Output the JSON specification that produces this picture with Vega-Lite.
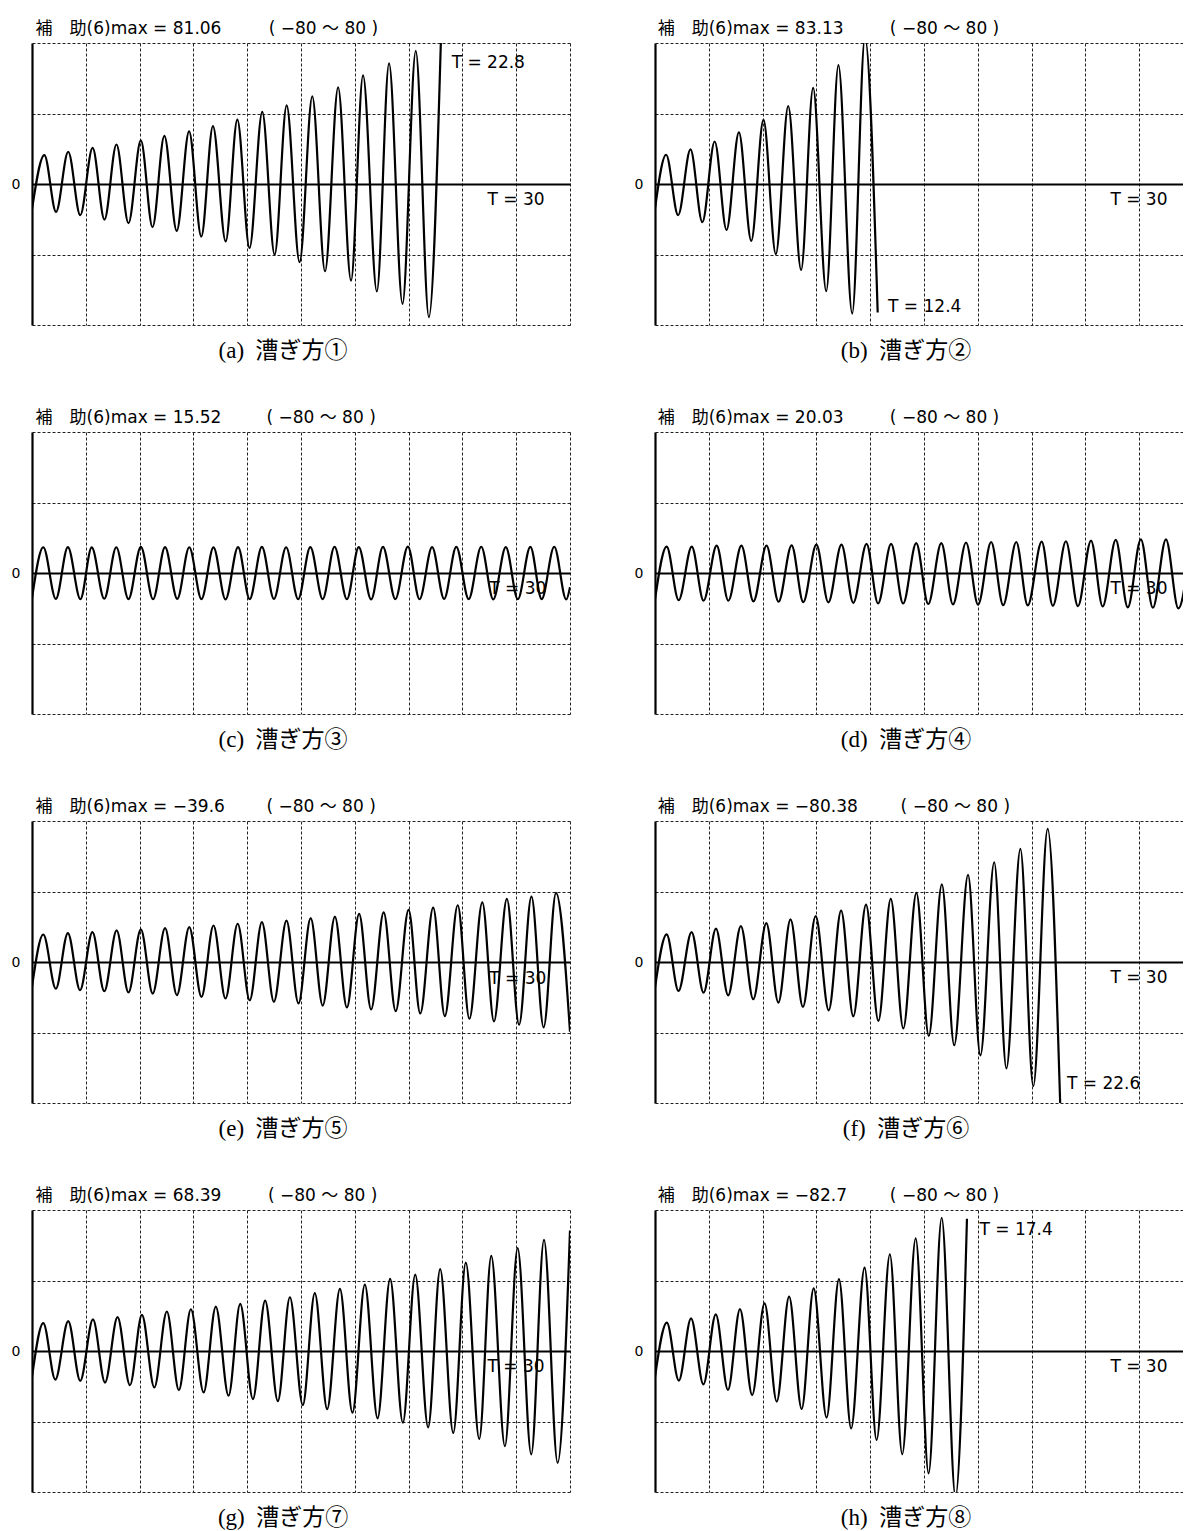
{
"$schema":"https://vega.github.io/schema/vega-lite/v6.json",
"background":"white",
"padding":{"left":11,"top":20,"right":0,"bottom":0},
"autosize":{"type":"pad"},
"config":{"view":{"stroke":null}},
"data":{"values":[
{"p":"a","k":"w","t":0,"v":-14.3},{"p":"a","k":"w","t":0.69,"v":16.4},{"p":"a","k":"w","t":1.34,"v":-15.8},{"p":"a","k":"w","t":2.02,"v":18.3},{"p":"a","k":"w","t":2.69,"v":-17.7},{"p":"a","k":"w","t":3.38,"v":20.5},{"p":"a","k":"w","t":4.04,"v":-20.2},{"p":"a","k":"w","t":4.71,"v":22.4},{"p":"a","k":"w","t":5.38,"v":-22.2},{"p":"a","k":"w","t":6.07,"v":24.7},{"p":"a","k":"w","t":6.72,"v":-24.5},{"p":"a","k":"w","t":7.38,"v":27.3},{"p":"a","k":"w","t":8.07,"v":-26.6},{"p":"a","k":"w","t":8.76,"v":29.9},{"p":"a","k":"w","t":9.44,"v":-29.8},{"p":"a","k":"w","t":10.09,"v":32.8},{"p":"a","k":"w","t":10.8,"v":-32.6},{"p":"a","k":"w","t":11.45,"v":36.5},{"p":"a","k":"w","t":12.13,"v":-36.3},{"p":"a","k":"w","t":12.84,"v":40.9},{"p":"a","k":"w","t":13.53,"v":-40.1},{"p":"a","k":"w","t":14.2,"v":44.6},{"p":"a","k":"w","t":14.92,"v":-44.4},{"p":"a","k":"w","t":15.63,"v":49.7},{"p":"a","k":"w","t":16.34,"v":-49.5},{"p":"a","k":"w","t":17.07,"v":54.8},{"p":"a","k":"w","t":17.79,"v":-54.8},{"p":"a","k":"w","t":18.46,"v":61.6},{"p":"a","k":"w","t":19.23,"v":-61.0},{"p":"a","k":"w","t":19.91,"v":68.4},{"p":"a","k":"w","t":20.66,"v":-68.0},{"p":"a","k":"w","t":21.4,"v":75.5},{"p":"a","k":"w","t":22.13,"v":-75.5},{"p":"a","k":"w","t":22.8,"v":81.06},
{"p":"a","k":"h","t":0.2,"v":85.1,"s":"補　助(6)max = 81.06"},{"p":"a","k":"h","t":13.2,"v":85.1,"s":"( −80 〜 80 )"},{"p":"a","k":"c","t":14.0,"v":-99,"s":"(a)\u2002漕ぎ方①"},{"p":"a","k":"l","t":25.4,"v":-9,"s":"T = 30"},{"p":"a","k":"l","t":23.4,"v":68.8,"s":"T = 22.8"},
{"p":"b","k":"w","t":0,"v":-14.0},{"p":"b","k":"w","t":0.62,"v":16.6},{"p":"b","k":"w","t":1.29,"v":-17.7},{"p":"b","k":"w","t":1.98,"v":19.6},{"p":"b","k":"w","t":2.64,"v":-21.6},{"p":"b","k":"w","t":3.33,"v":24.1},{"p":"b","k":"w","t":3.99,"v":-26.1},{"p":"b","k":"w","t":4.68,"v":29.3},{"p":"b","k":"w","t":5.37,"v":-32.3},{"p":"b","k":"w","t":6.05,"v":36.4},{"p":"b","k":"w","t":6.74,"v":-39.8},{"p":"b","k":"w","t":7.43,"v":44.2},{"p":"b","k":"w","t":8.15,"v":-48.8},{"p":"b","k":"w","t":8.82,"v":54.5},{"p":"b","k":"w","t":9.55,"v":-60.8},{"p":"b","k":"w","t":10.23,"v":67.4},{"p":"b","k":"w","t":11.0,"v":-73.5},{"p":"b","k":"w","t":11.71,"v":83.13},{"p":"b","k":"w","t":12.42,"v":-72.9},
{"p":"b","k":"h","t":0.15,"v":85.1,"s":"補　助(6)max = 83.13"},{"p":"b","k":"h","t":13.1,"v":85.1,"s":"( −80 〜 80 )"},{"p":"b","k":"c","t":14.0,"v":-99,"s":"(b)\u2002漕ぎ方②"},{"p":"b","k":"l","t":25.4,"v":-9,"s":"T = 30"},{"p":"b","k":"l","t":13.0,"v":-70,"s":"T = 12.4"},
{"p":"c","k":"w","t":0,"v":-14.4},{"p":"c","k":"w","t":0.63,"v":14.6},{"p":"c","k":"w","t":1.33,"v":-14.7},{"p":"c","k":"w","t":2.0,"v":14.7},{"p":"c","k":"w","t":2.7,"v":-14.8},{"p":"c","k":"w","t":3.33,"v":14.5},{"p":"c","k":"w","t":4.03,"v":-14.6},{"p":"c","k":"w","t":4.7,"v":14.6},{"p":"c","k":"w","t":5.38,"v":-14.8},{"p":"c","k":"w","t":6.07,"v":14.8},{"p":"c","k":"w","t":6.75,"v":-14.9},{"p":"c","k":"w","t":7.42,"v":14.7},{"p":"c","k":"w","t":8.1,"v":-14.7},{"p":"c","k":"w","t":8.77,"v":14.6},{"p":"c","k":"w","t":9.45,"v":-14.8},{"p":"c","k":"w","t":10.12,"v":14.5},{"p":"c","k":"w","t":10.79,"v":-15.0},{"p":"c","k":"w","t":11.49,"v":14.7},{"p":"c","k":"w","t":12.14,"v":-14.8},{"p":"c","k":"w","t":12.82,"v":14.8},{"p":"c","k":"w","t":13.49,"v":-14.7},{"p":"c","k":"w","t":14.17,"v":14.6},{"p":"c","k":"w","t":14.84,"v":-14.9},{"p":"c","k":"w","t":15.52,"v":14.7},{"p":"c","k":"w","t":16.21,"v":-14.8},{"p":"c","k":"w","t":16.87,"v":14.9},{"p":"c","k":"w","t":17.56,"v":-14.9},{"p":"c","k":"w","t":18.22,"v":14.7},{"p":"c","k":"w","t":18.91,"v":-15.0},{"p":"c","k":"w","t":19.57,"v":14.8},{"p":"c","k":"w","t":20.26,"v":-14.8},{"p":"c","k":"w","t":20.96,"v":15.0},{"p":"c","k":"w","t":21.61,"v":-14.9},{"p":"c","k":"w","t":22.31,"v":14.7},{"p":"c","k":"w","t":22.98,"v":-14.7},{"p":"c","k":"w","t":23.66,"v":14.8},{"p":"c","k":"w","t":24.35,"v":-14.8},{"p":"c","k":"w","t":25.05,"v":14.9},{"p":"c","k":"w","t":25.72,"v":-15.0},{"p":"c","k":"w","t":26.42,"v":14.7},{"p":"c","k":"w","t":27.09,"v":-14.9},{"p":"c","k":"w","t":27.79,"v":14.8},{"p":"c","k":"w","t":28.42,"v":-14.8},{"p":"c","k":"w","t":29.12,"v":14.9},{"p":"c","k":"w","t":29.79,"v":-15.0},{"p":"c","k":"w","t":30,"v":-8},
{"p":"c","k":"h","t":0.2,"v":85.1,"s":"補　助(6)max = 15.52"},{"p":"c","k":"h","t":13.07,"v":85.1,"s":"( −80 〜 80 )"},{"p":"c","k":"c","t":14.0,"v":-99,"s":"(c)\u2002漕ぎ方③"},{"p":"c","k":"l","t":25.5,"v":-9,"s":"T = 30"},
{"p":"d","k":"w","t":0,"v":-15.0},{"p":"d","k":"w","t":0.65,"v":15.0},{"p":"d","k":"w","t":1.32,"v":-15.4},{"p":"d","k":"w","t":2.05,"v":15.0},{"p":"d","k":"w","t":2.71,"v":-15.7},{"p":"d","k":"w","t":3.44,"v":15.5},{"p":"d","k":"w","t":4.09,"v":-15.7},{"p":"d","k":"w","t":4.82,"v":15.5},{"p":"d","k":"w","t":5.49,"v":-16.1},{"p":"d","k":"w","t":6.22,"v":15.5},{"p":"d","k":"w","t":6.89,"v":-16.3},{"p":"d","k":"w","t":7.62,"v":15.7},{"p":"d","k":"w","t":8.27,"v":-16.5},{"p":"d","k":"w","t":9.0,"v":16.1},{"p":"d","k":"w","t":9.67,"v":-16.7},{"p":"d","k":"w","t":10.4,"v":16.1},{"p":"d","k":"w","t":11.06,"v":-16.9},{"p":"d","k":"w","t":11.8,"v":16.5},{"p":"d","k":"w","t":12.44,"v":-17.3},{"p":"d","k":"w","t":13.17,"v":16.5},{"p":"d","k":"w","t":13.84,"v":-17.3},{"p":"d","k":"w","t":14.57,"v":16.9},{"p":"d","k":"w","t":15.24,"v":-17.6},{"p":"d","k":"w","t":15.97,"v":16.9},{"p":"d","k":"w","t":16.62,"v":-17.8},{"p":"d","k":"w","t":17.35,"v":17.3},{"p":"d","k":"w","t":18.02,"v":-18.0},{"p":"d","k":"w","t":18.75,"v":17.6},{"p":"d","k":"w","t":19.42,"v":-18.2},{"p":"d","k":"w","t":20.15,"v":17.6},{"p":"d","k":"w","t":20.79,"v":-18.4},{"p":"d","k":"w","t":21.57,"v":17.8},{"p":"d","k":"w","t":22.19,"v":-18.6},{"p":"d","k":"w","t":22.92,"v":18.0},{"p":"d","k":"w","t":23.59,"v":-18.8},{"p":"d","k":"w","t":24.32,"v":18.4},{"p":"d","k":"w","t":24.97,"v":-19.0},{"p":"d","k":"w","t":25.7,"v":18.8},{"p":"d","k":"w","t":26.37,"v":-19.5},{"p":"d","k":"w","t":27.1,"v":19.1},{"p":"d","k":"w","t":27.77,"v":-19.7},{"p":"d","k":"w","t":28.5,"v":19.1},{"p":"d","k":"w","t":29.19,"v":-20.1},{"p":"d","k":"w","t":29.9,"v":19.8},
{"p":"d","k":"h","t":0.15,"v":85.1,"s":"補　助(6)max = 20.03"},{"p":"d","k":"h","t":13.1,"v":85.1,"s":"( −80 〜 80 )"},{"p":"d","k":"c","t":14.0,"v":-99,"s":"(d)\u2002漕ぎ方④"},{"p":"d","k":"l","t":25.4,"v":-9,"s":"T = 30"},
{"p":"e","k":"w","t":0,"v":-14.1},{"p":"e","k":"w","t":0.63,"v":15.6},{"p":"e","k":"w","t":1.33,"v":-15.1},{"p":"e","k":"w","t":2.0,"v":16.4},{"p":"e","k":"w","t":2.68,"v":-16.0},{"p":"e","k":"w","t":3.37,"v":16.9},{"p":"e","k":"w","t":4.03,"v":-16.6},{"p":"e","k":"w","t":4.72,"v":17.9},{"p":"e","k":"w","t":5.38,"v":-17.3},{"p":"e","k":"w","t":6.07,"v":18.5},{"p":"e","k":"w","t":6.73,"v":-17.9},{"p":"e","k":"w","t":7.42,"v":19.2},{"p":"e","k":"w","t":8.08,"v":-18.8},{"p":"e","k":"w","t":8.77,"v":19.8},{"p":"e","k":"w","t":9.45,"v":-19.8},{"p":"e","k":"w","t":10.12,"v":20.7},{"p":"e","k":"w","t":10.79,"v":-20.7},{"p":"e","k":"w","t":11.47,"v":21.7},{"p":"e","k":"w","t":12.14,"v":-21.7},{"p":"e","k":"w","t":12.82,"v":22.6},{"p":"e","k":"w","t":13.49,"v":-22.6},{"p":"e","k":"w","t":14.19,"v":23.5},{"p":"e","k":"w","t":14.86,"v":-23.5},{"p":"e","k":"w","t":15.54,"v":24.9},{"p":"e","k":"w","t":16.21,"v":-24.7},{"p":"e","k":"w","t":16.89,"v":25.8},{"p":"e","k":"w","t":17.56,"v":-25.8},{"p":"e","k":"w","t":18.24,"v":27.3},{"p":"e","k":"w","t":18.91,"v":-26.9},{"p":"e","k":"w","t":19.61,"v":28.2},{"p":"e","k":"w","t":20.28,"v":-27.9},{"p":"e","k":"w","t":21.0,"v":29.6},{"p":"e","k":"w","t":21.65,"v":-29.2},{"p":"e","k":"w","t":22.37,"v":30.9},{"p":"e","k":"w","t":23.02,"v":-30.7},{"p":"e","k":"w","t":23.74,"v":32.2},{"p":"e","k":"w","t":24.39,"v":-32.2},{"p":"e","k":"w","t":25.11,"v":33.9},{"p":"e","k":"w","t":25.76,"v":-33.7},{"p":"e","k":"w","t":26.48,"v":35.8},{"p":"e","k":"w","t":27.16,"v":-35.6},{"p":"e","k":"w","t":27.85,"v":37.1},{"p":"e","k":"w","t":28.53,"v":-37.1},{"p":"e","k":"w","t":29.22,"v":39.2},{"p":"e","k":"w","t":30,"v":-39.6},
{"p":"e","k":"h","t":0.2,"v":85.1,"s":"補　助(6)max = −39.6"},{"p":"e","k":"h","t":13.07,"v":85.1,"s":"( −80 〜 80 )"},{"p":"e","k":"c","t":14.0,"v":-99,"s":"(e)\u2002漕ぎ方⑤"},{"p":"e","k":"l","t":25.5,"v":-9.5,"s":"T = 30"},
{"p":"f","k":"w","t":0,"v":-14.5},{"p":"f","k":"w","t":0.65,"v":15.7},{"p":"f","k":"w","t":1.31,"v":-16.4},{"p":"f","k":"w","t":2.04,"v":17.0},{"p":"f","k":"w","t":2.71,"v":-17.4},{"p":"f","k":"w","t":3.4,"v":18.9},{"p":"f","k":"w","t":4.08,"v":-18.9},{"p":"f","k":"w","t":4.79,"v":20.4},{"p":"f","k":"w","t":5.48,"v":-21.1},{"p":"f","k":"w","t":6.21,"v":22.1},{"p":"f","k":"w","t":6.88,"v":-23.0},{"p":"f","k":"w","t":7.56,"v":24.2},{"p":"f","k":"w","t":8.25,"v":-25.5},{"p":"f","k":"w","t":8.96,"v":26.0},{"p":"f","k":"w","t":9.69,"v":-27.4},{"p":"f","k":"w","t":10.38,"v":29.2},{"p":"f","k":"w","t":11.06,"v":-30.8},{"p":"f","k":"w","t":11.77,"v":32.5},{"p":"f","k":"w","t":12.46,"v":-33.4},{"p":"f","k":"w","t":13.15,"v":35.8},{"p":"f","k":"w","t":13.85,"v":-37.7},{"p":"f","k":"w","t":14.58,"v":39.2},{"p":"f","k":"w","t":15.27,"v":-41.9},{"p":"f","k":"w","t":16.0,"v":44.0},{"p":"f","k":"w","t":16.69,"v":-47.2},{"p":"f","k":"w","t":17.46,"v":49.4},{"p":"f","k":"w","t":18.15,"v":-53.0},{"p":"f","k":"w","t":18.92,"v":56.6},{"p":"f","k":"w","t":19.6,"v":-60.4},{"p":"f","k":"w","t":20.38,"v":64.2},{"p":"f","k":"w","t":21.1,"v":-70.4},{"p":"f","k":"w","t":21.9,"v":75.5},{"p":"f","k":"w","t":22.6,"v":-80.38},
{"p":"f","k":"h","t":0.15,"v":85.1,"s":"補　助(6)max = −80.38"},{"p":"f","k":"h","t":13.7,"v":85.1,"s":"( −80 〜 80 )"},{"p":"f","k":"c","t":14.0,"v":-99,"s":"(f)\u2002漕ぎ方⑥"},{"p":"f","k":"l","t":25.4,"v":-9,"s":"T = 30"},{"p":"f","k":"l","t":22.98,"v":-69,"s":"T = 22.6"},
{"p":"g","k":"w","t":0,"v":-14.7},{"p":"g","k":"w","t":0.63,"v":15.8},{"p":"g","k":"w","t":1.3,"v":-16.2},{"p":"g","k":"w","t":2.02,"v":16.9},{"p":"g","k":"w","t":2.69,"v":-16.9},{"p":"g","k":"w","t":3.4,"v":17.9},{"p":"g","k":"w","t":4.07,"v":-17.9},{"p":"g","k":"w","t":4.77,"v":19.2},{"p":"g","k":"w","t":5.46,"v":-19.4},{"p":"g","k":"w","t":6.13,"v":20.5},{"p":"g","k":"w","t":6.82,"v":-20.7},{"p":"g","k":"w","t":7.52,"v":22.4},{"p":"g","k":"w","t":8.19,"v":-22.2},{"p":"g","k":"w","t":8.86,"v":23.7},{"p":"g","k":"w","t":9.57,"v":-23.5},{"p":"g","k":"w","t":10.25,"v":25.2},{"p":"g","k":"w","t":10.96,"v":-25.4},{"p":"g","k":"w","t":11.61,"v":26.7},{"p":"g","k":"w","t":12.32,"v":-27.3},{"p":"g","k":"w","t":13.0,"v":28.6},{"p":"g","k":"w","t":13.71,"v":-28.4},{"p":"g","k":"w","t":14.38,"v":30.5},{"p":"g","k":"w","t":15.1,"v":-30.7},{"p":"g","k":"w","t":15.77,"v":32.8},{"p":"g","k":"w","t":16.46,"v":-33.0},{"p":"g","k":"w","t":17.17,"v":35.2},{"p":"g","k":"w","t":17.87,"v":-35.0},{"p":"g","k":"w","t":18.56,"v":37.7},{"p":"g","k":"w","t":19.27,"v":-38.2},{"p":"g","k":"w","t":19.97,"v":40.9},{"p":"g","k":"w","t":20.68,"v":-40.7},{"p":"g","k":"w","t":21.37,"v":43.3},{"p":"g","k":"w","t":22.09,"v":-43.3},{"p":"g","k":"w","t":22.76,"v":46.5},{"p":"g","k":"w","t":23.49,"v":-46.5},{"p":"g","k":"w","t":24.19,"v":50.1},{"p":"g","k":"w","t":24.94,"v":-49.9},{"p":"g","k":"w","t":25.61,"v":54.0},{"p":"g","k":"w","t":26.37,"v":-54.0},{"p":"g","k":"w","t":27.08,"v":58.4},{"p":"g","k":"w","t":27.84,"v":-58.7},{"p":"g","k":"w","t":28.55,"v":63.1},{"p":"g","k":"w","t":29.31,"v":-63.5},{"p":"g","k":"w","t":30,"v":68.39},
{"p":"g","k":"h","t":0.2,"v":85.1,"s":"補　助(6)max = 68.39"},{"p":"g","k":"h","t":13.16,"v":85.1,"s":"( −80 〜 80 )"},{"p":"g","k":"c","t":14.0,"v":-99,"s":"(g)\u2002漕ぎ方⑦"},{"p":"g","k":"l","t":25.4,"v":-9,"s":"T = 30"},
{"p":"h","k":"w","t":0,"v":-14.6},{"p":"h","k":"w","t":0.66,"v":16.1},{"p":"h","k":"w","t":1.33,"v":-16.8},{"p":"h","k":"w","t":2.01,"v":18.5},{"p":"h","k":"w","t":2.7,"v":-18.9},{"p":"h","k":"w","t":3.39,"v":20.8},{"p":"h","k":"w","t":4.07,"v":-22.1},{"p":"h","k":"w","t":4.74,"v":23.8},{"p":"h","k":"w","t":5.42,"v":-25.0},{"p":"h","k":"w","t":6.11,"v":27.0},{"p":"h","k":"w","t":6.79,"v":-28.7},{"p":"h","k":"w","t":7.48,"v":30.8},{"p":"h","k":"w","t":8.18,"v":-32.9},{"p":"h","k":"w","t":8.85,"v":35.5},{"p":"h","k":"w","t":9.57,"v":-37.8},{"p":"h","k":"w","t":10.26,"v":40.8},{"p":"h","k":"w","t":10.94,"v":-43.9},{"p":"h","k":"w","t":11.69,"v":47.3},{"p":"h","k":"w","t":12.36,"v":-50.5},{"p":"h","k":"w","t":13.1,"v":54.8},{"p":"h","k":"w","t":13.79,"v":-58.6},{"p":"h","k":"w","t":14.54,"v":63.9},{"p":"h","k":"w","t":15.26,"v":-69.4},{"p":"h","k":"w","t":15.99,"v":75.6},{"p":"h","k":"w","t":16.76,"v":-82.7},{"p":"h","k":"w","t":17.4,"v":75.0},
{"p":"h","k":"h","t":0.15,"v":85.1,"s":"補　助(6)max = −82.7"},{"p":"h","k":"h","t":13.1,"v":85.1,"s":"( −80 〜 80 )"},{"p":"h","k":"c","t":14.0,"v":-99,"s":"(h)\u2002漕ぎ方⑧"},{"p":"h","k":"l","t":25.4,"v":-9,"s":"T = 30"},{"p":"h","k":"l","t":18.1,"v":68.6,"s":"T = 17.4"}
]},
"columns":2,
"spacing":{"row":107,"column":85},
"bounds":"flush",
"concat":[
{"width":538,"height":282,"transform":[{"filter":"datum.p === 'a'"}],
 "encoding":{"x":{"field":"t","type":"quantitative","scale":{"domain":[0,30],"nice":false,"zero":false},"axis":{"values":[3,6,9,12,15,18,21,24,27,30],"grid":true,"gridColor":"#222","gridDash":[3,2],"gridWidth":1,"labels":false,"ticks":false,"domain":false,"title":null}},
  "y":{"field":"v","type":"quantitative","scale":{"domain":[-80,80],"nice":false,"zero":false},"axis":{"values":[-80,-40,0,40,80],"grid":true,"gridColor":{"condition":{"test":"datum.value === 0","value":"black"},"value":"#222"},"gridDash":{"condition":{"test":"datum.value === 0","value":[]},"value":[3,2]},"gridWidth":{"condition":{"test":"datum.value === 0","value":2.2},"value":1},"labelExpr":"datum.value === 0 ? '0' : ''","labelFont":"DejaVu Sans","labelFontSize":14,"labelColor":"black","labelPadding":12,"labelOverlap":false,"labelFlush":false,"ticks":false,"tickSize":0,"domain":true,"domainColor":"black","domainWidth":2.2,"title":null}}},
 "layer":[
  {"transform":[{"filter":"datum.k === 'h'"}],"mark":{"type":"text","align":"left","baseline":"alphabetic","fontSize":17,"font":"DejaVu Sans, Noto Sans CJK JP","color":"black"},"encoding":{"text":{"field":"s"}}},
  {"transform":[{"filter":"datum.k === 'c'"}],"mark":{"type":"text","align":"center","baseline":"alphabetic","fontSize":23,"font":"Liberation Serif, Noto Sans CJK JP","color":"black"},"encoding":{"text":{"field":"s"}}},
  {"transform":[{"filter":"datum.k === 'l'"}],"mark":{"type":"text","align":"left","baseline":"middle","fontSize":17,"font":"DejaVu Sans","color":"black"},"encoding":{"text":{"field":"s"}}},
  {"transform":[{"filter":"datum.k === 'w'"}],"mark":{"type":"line","interpolate":"monotone","color":"black","strokeWidth":2.2,"clip":true}}
 ]},
{"width":528,"height":282,"transform":[{"filter":"datum.p === 'b'"}],
 "encoding":{"x":{"field":"t","type":"quantitative","scale":{"domain":[0,29.45],"nice":false,"zero":false},"axis":{"values":[3,6,9,12,15,18,21,24,27],"grid":true,"gridColor":"#222","gridDash":[3,2],"gridWidth":1,"labels":false,"ticks":false,"domain":false,"title":null}},
  "y":{"field":"v","type":"quantitative","scale":{"domain":[-80,80],"nice":false,"zero":false},"axis":{"values":[-80,-40,0,40,80],"grid":true,"gridColor":{"condition":{"test":"datum.value === 0","value":"black"},"value":"#222"},"gridDash":{"condition":{"test":"datum.value === 0","value":[]},"value":[3,2]},"gridWidth":{"condition":{"test":"datum.value === 0","value":2.2},"value":1},"labelExpr":"datum.value === 0 ? '0' : ''","labelFont":"DejaVu Sans","labelFontSize":14,"labelColor":"black","labelPadding":12,"labelOverlap":false,"labelFlush":false,"ticks":false,"tickSize":0,"domain":true,"domainColor":"black","domainWidth":2.2,"title":null}}},
 "layer":[
  {"transform":[{"filter":"datum.k === 'h'"}],"mark":{"type":"text","align":"left","baseline":"alphabetic","fontSize":17,"font":"DejaVu Sans, Noto Sans CJK JP","color":"black"},"encoding":{"text":{"field":"s"}}},
  {"transform":[{"filter":"datum.k === 'c'"}],"mark":{"type":"text","align":"center","baseline":"alphabetic","fontSize":23,"font":"Liberation Serif, Noto Sans CJK JP","color":"black"},"encoding":{"text":{"field":"s"}}},
  {"transform":[{"filter":"datum.k === 'l'"}],"mark":{"type":"text","align":"left","baseline":"middle","fontSize":17,"font":"DejaVu Sans","color":"black"},"encoding":{"text":{"field":"s"}}},
  {"transform":[{"filter":"datum.k === 'w'"}],"mark":{"type":"line","interpolate":"monotone","color":"black","strokeWidth":2.2,"clip":true}}
 ]},
{"width":538,"height":282,"transform":[{"filter":"datum.p === 'c'"}],
 "encoding":{"x":{"field":"t","type":"quantitative","scale":{"domain":[0,30],"nice":false,"zero":false},"axis":{"values":[3,6,9,12,15,18,21,24,27,30],"grid":true,"gridColor":"#222","gridDash":[3,2],"gridWidth":1,"labels":false,"ticks":false,"domain":false,"title":null}},
  "y":{"field":"v","type":"quantitative","scale":{"domain":[-80,80],"nice":false,"zero":false},"axis":{"values":[-80,-40,0,40,80],"grid":true,"gridColor":{"condition":{"test":"datum.value === 0","value":"black"},"value":"#222"},"gridDash":{"condition":{"test":"datum.value === 0","value":[]},"value":[3,2]},"gridWidth":{"condition":{"test":"datum.value === 0","value":2.2},"value":1},"labelExpr":"datum.value === 0 ? '0' : ''","labelFont":"DejaVu Sans","labelFontSize":14,"labelColor":"black","labelPadding":12,"labelOverlap":false,"labelFlush":false,"ticks":false,"tickSize":0,"domain":true,"domainColor":"black","domainWidth":2.2,"title":null}}},
 "layer":[
  {"transform":[{"filter":"datum.k === 'h'"}],"mark":{"type":"text","align":"left","baseline":"alphabetic","fontSize":17,"font":"DejaVu Sans, Noto Sans CJK JP","color":"black"},"encoding":{"text":{"field":"s"}}},
  {"transform":[{"filter":"datum.k === 'c'"}],"mark":{"type":"text","align":"center","baseline":"alphabetic","fontSize":23,"font":"Liberation Serif, Noto Sans CJK JP","color":"black"},"encoding":{"text":{"field":"s"}}},
  {"transform":[{"filter":"datum.k === 'l'"}],"mark":{"type":"text","align":"left","baseline":"middle","fontSize":17,"font":"DejaVu Sans","color":"black"},"encoding":{"text":{"field":"s"}}},
  {"transform":[{"filter":"datum.k === 'w'"}],"mark":{"type":"line","interpolate":"monotone","color":"black","strokeWidth":2.2,"clip":true}}
 ]},
{"width":528,"height":282,"transform":[{"filter":"datum.p === 'd'"}],
 "encoding":{"x":{"field":"t","type":"quantitative","scale":{"domain":[0,29.45],"nice":false,"zero":false},"axis":{"values":[3,6,9,12,15,18,21,24,27],"grid":true,"gridColor":"#222","gridDash":[3,2],"gridWidth":1,"labels":false,"ticks":false,"domain":false,"title":null}},
  "y":{"field":"v","type":"quantitative","scale":{"domain":[-80,80],"nice":false,"zero":false},"axis":{"values":[-80,-40,0,40,80],"grid":true,"gridColor":{"condition":{"test":"datum.value === 0","value":"black"},"value":"#222"},"gridDash":{"condition":{"test":"datum.value === 0","value":[]},"value":[3,2]},"gridWidth":{"condition":{"test":"datum.value === 0","value":2.2},"value":1},"labelExpr":"datum.value === 0 ? '0' : ''","labelFont":"DejaVu Sans","labelFontSize":14,"labelColor":"black","labelPadding":12,"labelOverlap":false,"labelFlush":false,"ticks":false,"tickSize":0,"domain":true,"domainColor":"black","domainWidth":2.2,"title":null}}},
 "layer":[
  {"transform":[{"filter":"datum.k === 'h'"}],"mark":{"type":"text","align":"left","baseline":"alphabetic","fontSize":17,"font":"DejaVu Sans, Noto Sans CJK JP","color":"black"},"encoding":{"text":{"field":"s"}}},
  {"transform":[{"filter":"datum.k === 'c'"}],"mark":{"type":"text","align":"center","baseline":"alphabetic","fontSize":23,"font":"Liberation Serif, Noto Sans CJK JP","color":"black"},"encoding":{"text":{"field":"s"}}},
  {"transform":[{"filter":"datum.k === 'l'"}],"mark":{"type":"text","align":"left","baseline":"middle","fontSize":17,"font":"DejaVu Sans","color":"black"},"encoding":{"text":{"field":"s"}}},
  {"transform":[{"filter":"datum.k === 'w'"}],"mark":{"type":"line","interpolate":"monotone","color":"black","strokeWidth":2.2,"clip":true}}
 ]},
{"width":538,"height":282,"transform":[{"filter":"datum.p === 'e'"}],
 "encoding":{"x":{"field":"t","type":"quantitative","scale":{"domain":[0,30],"nice":false,"zero":false},"axis":{"values":[3,6,9,12,15,18,21,24,27,30],"grid":true,"gridColor":"#222","gridDash":[3,2],"gridWidth":1,"labels":false,"ticks":false,"domain":false,"title":null}},
  "y":{"field":"v","type":"quantitative","scale":{"domain":[-80,80],"nice":false,"zero":false},"axis":{"values":[-80,-40,0,40,80],"grid":true,"gridColor":{"condition":{"test":"datum.value === 0","value":"black"},"value":"#222"},"gridDash":{"condition":{"test":"datum.value === 0","value":[]},"value":[3,2]},"gridWidth":{"condition":{"test":"datum.value === 0","value":2.2},"value":1},"labelExpr":"datum.value === 0 ? '0' : ''","labelFont":"DejaVu Sans","labelFontSize":14,"labelColor":"black","labelPadding":12,"labelOverlap":false,"labelFlush":false,"ticks":false,"tickSize":0,"domain":true,"domainColor":"black","domainWidth":2.2,"title":null}}},
 "layer":[
  {"transform":[{"filter":"datum.k === 'h'"}],"mark":{"type":"text","align":"left","baseline":"alphabetic","fontSize":17,"font":"DejaVu Sans, Noto Sans CJK JP","color":"black"},"encoding":{"text":{"field":"s"}}},
  {"transform":[{"filter":"datum.k === 'c'"}],"mark":{"type":"text","align":"center","baseline":"alphabetic","fontSize":23,"font":"Liberation Serif, Noto Sans CJK JP","color":"black"},"encoding":{"text":{"field":"s"}}},
  {"transform":[{"filter":"datum.k === 'l'"}],"mark":{"type":"text","align":"left","baseline":"middle","fontSize":17,"font":"DejaVu Sans","color":"black"},"encoding":{"text":{"field":"s"}}},
  {"transform":[{"filter":"datum.k === 'w'"}],"mark":{"type":"line","interpolate":"monotone","color":"black","strokeWidth":2.2,"clip":true}}
 ]},
{"width":528,"height":282,"transform":[{"filter":"datum.p === 'f'"}],
 "encoding":{"x":{"field":"t","type":"quantitative","scale":{"domain":[0,29.45],"nice":false,"zero":false},"axis":{"values":[3,6,9,12,15,18,21,24,27],"grid":true,"gridColor":"#222","gridDash":[3,2],"gridWidth":1,"labels":false,"ticks":false,"domain":false,"title":null}},
  "y":{"field":"v","type":"quantitative","scale":{"domain":[-80,80],"nice":false,"zero":false},"axis":{"values":[-80,-40,0,40,80],"grid":true,"gridColor":{"condition":{"test":"datum.value === 0","value":"black"},"value":"#222"},"gridDash":{"condition":{"test":"datum.value === 0","value":[]},"value":[3,2]},"gridWidth":{"condition":{"test":"datum.value === 0","value":2.2},"value":1},"labelExpr":"datum.value === 0 ? '0' : ''","labelFont":"DejaVu Sans","labelFontSize":14,"labelColor":"black","labelPadding":12,"labelOverlap":false,"labelFlush":false,"ticks":false,"tickSize":0,"domain":true,"domainColor":"black","domainWidth":2.2,"title":null}}},
 "layer":[
  {"transform":[{"filter":"datum.k === 'h'"}],"mark":{"type":"text","align":"left","baseline":"alphabetic","fontSize":17,"font":"DejaVu Sans, Noto Sans CJK JP","color":"black"},"encoding":{"text":{"field":"s"}}},
  {"transform":[{"filter":"datum.k === 'c'"}],"mark":{"type":"text","align":"center","baseline":"alphabetic","fontSize":23,"font":"Liberation Serif, Noto Sans CJK JP","color":"black"},"encoding":{"text":{"field":"s"}}},
  {"transform":[{"filter":"datum.k === 'l'"}],"mark":{"type":"text","align":"left","baseline":"middle","fontSize":17,"font":"DejaVu Sans","color":"black"},"encoding":{"text":{"field":"s"}}},
  {"transform":[{"filter":"datum.k === 'w'"}],"mark":{"type":"line","interpolate":"monotone","color":"black","strokeWidth":2.2,"clip":true}}
 ]},
{"width":538,"height":282,"transform":[{"filter":"datum.p === 'g'"}],
 "encoding":{"x":{"field":"t","type":"quantitative","scale":{"domain":[0,30],"nice":false,"zero":false},"axis":{"values":[3,6,9,12,15,18,21,24,27,30],"grid":true,"gridColor":"#222","gridDash":[3,2],"gridWidth":1,"labels":false,"ticks":false,"domain":false,"title":null}},
  "y":{"field":"v","type":"quantitative","scale":{"domain":[-80,80],"nice":false,"zero":false},"axis":{"values":[-80,-40,0,40,80],"grid":true,"gridColor":{"condition":{"test":"datum.value === 0","value":"black"},"value":"#222"},"gridDash":{"condition":{"test":"datum.value === 0","value":[]},"value":[3,2]},"gridWidth":{"condition":{"test":"datum.value === 0","value":2.2},"value":1},"labelExpr":"datum.value === 0 ? '0' : ''","labelFont":"DejaVu Sans","labelFontSize":14,"labelColor":"black","labelPadding":12,"labelOverlap":false,"labelFlush":false,"ticks":false,"tickSize":0,"domain":true,"domainColor":"black","domainWidth":2.2,"title":null}}},
 "layer":[
  {"transform":[{"filter":"datum.k === 'h'"}],"mark":{"type":"text","align":"left","baseline":"alphabetic","fontSize":17,"font":"DejaVu Sans, Noto Sans CJK JP","color":"black"},"encoding":{"text":{"field":"s"}}},
  {"transform":[{"filter":"datum.k === 'c'"}],"mark":{"type":"text","align":"center","baseline":"alphabetic","fontSize":23,"font":"Liberation Serif, Noto Sans CJK JP","color":"black"},"encoding":{"text":{"field":"s"}}},
  {"transform":[{"filter":"datum.k === 'l'"}],"mark":{"type":"text","align":"left","baseline":"middle","fontSize":17,"font":"DejaVu Sans","color":"black"},"encoding":{"text":{"field":"s"}}},
  {"transform":[{"filter":"datum.k === 'w'"}],"mark":{"type":"line","interpolate":"monotone","color":"black","strokeWidth":2.2,"clip":true}}
 ]},
{"width":528,"height":282,"transform":[{"filter":"datum.p === 'h'"}],
 "encoding":{"x":{"field":"t","type":"quantitative","scale":{"domain":[0,29.45],"nice":false,"zero":false},"axis":{"values":[3,6,9,12,15,18,21,24,27],"grid":true,"gridColor":"#222","gridDash":[3,2],"gridWidth":1,"labels":false,"ticks":false,"domain":false,"title":null}},
  "y":{"field":"v","type":"quantitative","scale":{"domain":[-80,80],"nice":false,"zero":false},"axis":{"values":[-80,-40,0,40,80],"grid":true,"gridColor":{"condition":{"test":"datum.value === 0","value":"black"},"value":"#222"},"gridDash":{"condition":{"test":"datum.value === 0","value":[]},"value":[3,2]},"gridWidth":{"condition":{"test":"datum.value === 0","value":2.2},"value":1},"labelExpr":"datum.value === 0 ? '0' : ''","labelFont":"DejaVu Sans","labelFontSize":14,"labelColor":"black","labelPadding":12,"labelOverlap":false,"labelFlush":false,"ticks":false,"tickSize":0,"domain":true,"domainColor":"black","domainWidth":2.2,"title":null}}},
 "layer":[
  {"transform":[{"filter":"datum.k === 'h'"}],"mark":{"type":"text","align":"left","baseline":"alphabetic","fontSize":17,"font":"DejaVu Sans, Noto Sans CJK JP","color":"black"},"encoding":{"text":{"field":"s"}}},
  {"transform":[{"filter":"datum.k === 'c'"}],"mark":{"type":"text","align":"center","baseline":"alphabetic","fontSize":23,"font":"Liberation Serif, Noto Sans CJK JP","color":"black"},"encoding":{"text":{"field":"s"}}},
  {"transform":[{"filter":"datum.k === 'l'"}],"mark":{"type":"text","align":"left","baseline":"middle","fontSize":17,"font":"DejaVu Sans","color":"black"},"encoding":{"text":{"field":"s"}}},
  {"transform":[{"filter":"datum.k === 'w'"}],"mark":{"type":"line","interpolate":"monotone","color":"black","strokeWidth":2.2,"clip":true}}
 ]}
]
}
